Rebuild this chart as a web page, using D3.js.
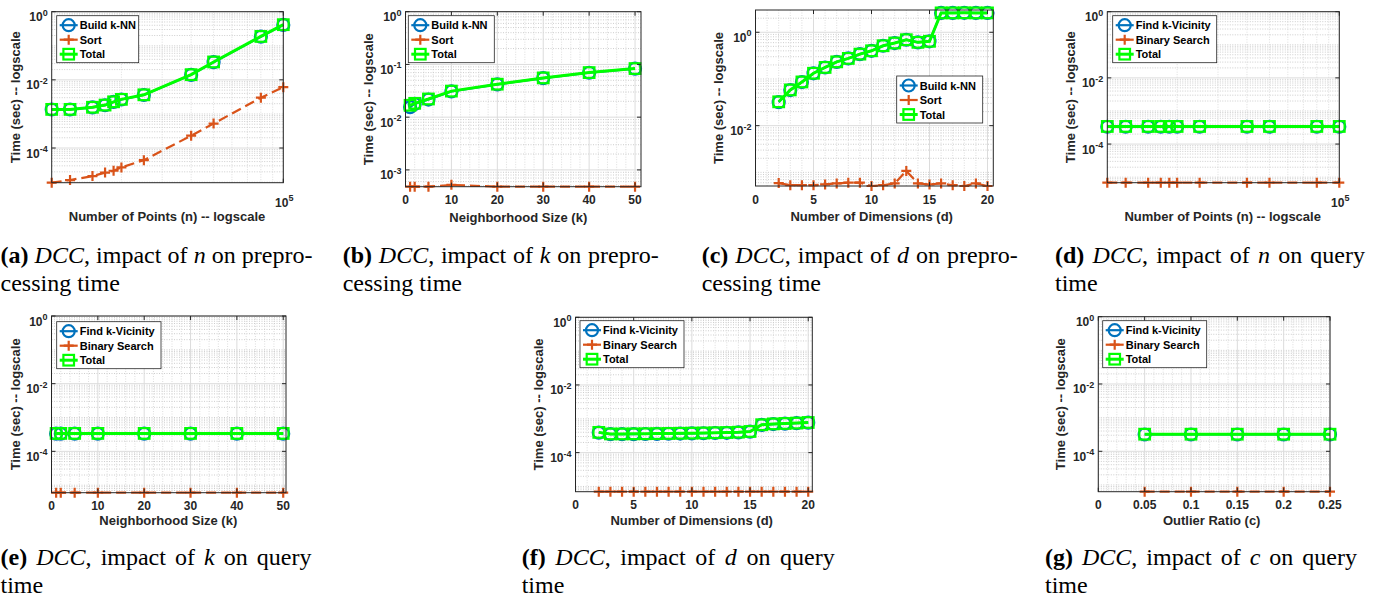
<!DOCTYPE html>
<meta charset="utf-8">
<head>
  <title>DCC timing</title>
</head>
<style>
  body { margin: 0; background: #fff; }
  .ax text { font-family: "Liberation Sans", Arial, sans-serif; font-weight: bold; fill: #262626; }
  .cap { font-family: "Liberation Serif", "Times New Roman", serif; fill: #000; }
</style>

<script src="https://d3js.org/d3.v7.min.js"></script>

<div id="fig"></div>

<script>

// x values
var nPoints = [10000, 12000, 15000, 17000, 18500, 20000, 25000, 40000, 50000, 80000, 100000];
var kSizes = [1, 2, 5, 10, 20, 30, 40, 50];
var dims = [2, 3, 4, 5, 6, 7, 8, 9, 10, 11, 12, 13, 14, 15, 16, 17, 18, 19, 20];
var ratios = [0.05, 0.1, 0.15, 0.2, 0.25];

// preprocessing time (sec)
var buildN = [1.35e-3, 1.35e-3, 1.55e-3, 1.8e-3, 2.25e-3, 2.65e-3, 3.6e-3, 1.4e-2, 3.3e-2, 0.185, 0.41];
var sortN  = [9.6e-6, 1.15e-5, 1.5e-5, 1.9e-5, 2.15e-5, 2.7e-5, 4.4e-5, 2.3e-4, 5.2e-4, 3.0e-3, 6.1e-3];
var totalN = [1.36e-3, 1.36e-3, 1.57e-3, 1.82e-3, 2.27e-3, 2.68e-3, 3.64e-3, 1.42e-2, 3.35e-2, 0.188, 0.416];

var buildK = [0.0155, 0.0178, 0.0216, 0.0307, 0.0417, 0.055, 0.0695, 0.083];
var sortK  = [4.8e-4, 4.8e-4, 4.8e-4, 5.2e-4, 4.8e-4, 4.8e-4, 4.8e-4, 4.8e-4];
var totalK = [0.0168, 0.0183, 0.0221, 0.0312, 0.0422, 0.0555, 0.07, 0.0835];

var buildD = [0.0318, 0.0578, 0.0859, 0.132, 0.176, 0.232, 0.275, 0.34, 0.401, 0.514, 0.588, 0.692, 0.608, 0.64, 2.6, 2.6, 2.61, 2.6, 2.6];
var sortD  = [5.9e-4, 5.3e-4, 5.3e-4, 5.3e-4, 5.5e-4, 5.8e-4, 6.0e-4, 6.0e-4, 5.1e-4, 5.3e-4, 5.8e-4, 1.07e-3, 5.8e-4, 5.5e-4, 5.8e-4, 5.3e-4, 5.1e-4, 5.8e-4, 5.1e-4];
var totalD = [0.0324, 0.0583, 0.0864, 0.1325, 0.1766, 0.2326, 0.2756, 0.3406, 0.4015, 0.5145, 0.5886, 0.693, 0.6086, 0.6406, 2.6006, 2.6005, 2.6105, 2.6006, 2.6005];

// query time (sec)
var findN  = [3.34e-4, 3.34e-4, 3.34e-4, 3.34e-4, 3.34e-4, 3.34e-4, 3.34e-4, 3.34e-4, 3.34e-4, 3.34e-4, 3.34e-4];
var binN   = [6.8e-6, 6.8e-6, 6.8e-6, 6.8e-6, 6.8e-6, 6.8e-6, 6.8e-6, 6.8e-6, 6.8e-6, 6.8e-6, 6.8e-6];
var qTotN  = [3.41e-4, 3.41e-4, 3.41e-4, 3.41e-4, 3.41e-4, 3.41e-4, 3.41e-4, 3.41e-4, 3.41e-4, 3.41e-4, 3.41e-4];

var findK  = [3.33e-4, 3.33e-4, 3.33e-4, 3.33e-4, 3.33e-4, 3.33e-4, 3.33e-4, 3.33e-4];
var binK   = [6.0e-6, 6.0e-6, 6.0e-6, 6.0e-6, 6.0e-6, 6.0e-6, 6.0e-6, 6.0e-6];
var qTotK  = [3.39e-4, 3.39e-4, 3.39e-4, 3.39e-4, 3.39e-4, 3.39e-4, 3.39e-4, 3.39e-4];

var findD  = [3.9e-4, 3.5e-4, 3.5e-4, 3.52e-4, 3.55e-4, 3.58e-4, 3.62e-4, 3.66e-4, 3.7e-4, 3.74e-4, 3.8e-4, 3.86e-4, 3.95e-4, 4.15e-4, 6.6e-4, 7.0e-4, 7.2e-4, 7.4e-4, 7.7e-4];
var binD   = [7e-6, 7e-6, 7e-6, 7e-6, 7e-6, 7e-6, 7e-6, 7e-6, 7e-6, 7e-6, 7e-6, 7e-6, 7e-6, 7e-6, 7e-6, 7e-6, 7e-6, 7e-6, 7e-6];
var qTotD  = [3.97e-4, 3.57e-4, 3.57e-4, 3.59e-4, 3.62e-4, 3.65e-4, 3.69e-4, 3.73e-4, 3.77e-4, 3.81e-4, 3.87e-4, 3.93e-4, 4.02e-4, 4.22e-4, 6.67e-4, 7.07e-4, 7.27e-4, 7.47e-4, 7.77e-4];

var findC  = [3.16e-4, 3.16e-4, 3.16e-4, 3.16e-4, 3.16e-4];
var binC   = [6.3e-6, 6.3e-6, 6.3e-6, 6.3e-6, 6.3e-6];
var qTotC  = [3.22e-4, 3.22e-4, 3.22e-4, 3.22e-4, 3.22e-4];

var prepNames = ["Build k-NN", "Sort", "Total"];
var queryNames = ["Find k-Vicinity", "Binary Search", "Total"];

// colours of the three series (MATLAB defaults + green)
var blue = "#0072BD", orange = "#D95319", lime = "#00FF00";

var panels = [
  {x: nPoints, xLog: true, xDomain: [1e4, 1e5], xTicks: [1e5], series: [buildN, sortN, totalN], names: prepNames,
   yTop: 1, yTicks: [1e-4, 1e-2, 1], box: {l: 51.7, r: 283.3, t: 11.7, b: 182.7},
   xLabel: "Number of Points (n) -- logscale", xLabelAt: [167, 220.5], yLabelX: 15,
   legend: {x: 56.7, y: 15.7, w: 82},
   cap: {x: 0.5, y: 263, w: 312, lab: "(a)", v: "n", tail: " on prepro-", line2: "cessing time"}},
  {x: kSizes, xDomain: [0, 51.3], xTicks: [0, 10, 20, 30, 40, 50], xMinor: 2, series: [buildK, sortK, totalK], names: prepNames,
   yTop: 1, yTicks: [1e-3, 1e-2, 1e-1, 1], box: {l: 405.5, r: 641, t: 11.7, b: 186.7},
   xLabel: "Neighborhood Size (k)", xLabelAt: [518.3, 221.5], yLabelX: 368.3,
   legend: {x: 408.3, y: 15.7, w: 86},
   cap: {x: 342.7, y: 263, w: 316, lab: "(b)", v: "k", tail: " on prepro-", line2: "cessing time"}},
  {x: dims, xDomain: [0, 20.5], xTicks: [0, 5, 10, 15, 20], xMinor: 1, series: [buildD, sortD, totalD], names: prepNames,
   yTop: 3.0, yTicks: [1e-2, 1], box: {l: 755.5, r: 993.3, t: 10, b: 186},
   xLabel: "Number of Dimensions (d)", xLabelAt: [871.7, 221], yLabelX: 718.3,
   legend: {x: 896.7, y: 76, w: 86},
   cap: {x: 701.7, y: 263, w: 316, lab: "(c)", v: "d", tail: " on prepro-", line2: "cessing time"}},
  {x: nPoints, xLog: true, xDomain: [1e4, 1e5], xTicks: [1e5], series: [findN, binN, qTotN], names: queryNames,
   yTop: 1, yTicks: [1e-4, 1e-2, 1], box: {l: 1107.3, r: 1339.3, t: 11.7, b: 182.7},
   xLabel: "Number of Points (n) -- logscale", xLabelAt: [1222.7, 220.5], yLabelX: 1070,
   legend: {x: 1112.7, y: 15.7, w: 104},
   cap: {x: 1055, y: 263, w: 310, lab: "(d)", v: "n", tail: " on query", line2: "time"}},
  {x: kSizes, xDomain: [0, 50.6], xTicks: [0, 10, 20, 30, 40, 50], xMinor: 2, series: [findK, binK, qTotK], names: queryNames,
   yTop: 1, yTicks: [1e-4, 1e-2, 1], box: {l: 51.5, r: 286, t: 316, b: 492.7},
   xLabel: "Neighborhood Size (k)", xLabelAt: [168.3, 524.5], yLabelX: 15,
   legend: {x: 56.7, y: 321.7, w: 104.3},
   cap: {x: 0.5, y: 565, w: 311, lab: "(e)", v: "k", tail: " on query", line2: "time"}},
  {x: dims, xDomain: [0, 20.35], xTicks: [0, 5, 10, 15, 20], xMinor: 1, series: [findD, binD, qTotD], names: queryNames,
   yTop: 1, yTicks: [1e-4, 1e-2, 1], box: {l: 575.5, r: 812.3, t: 317.3, b: 491.7},
   xLabel: "Number of Dimensions (d)", xLabelAt: [691.7, 524.5], yLabelX: 538,
   legend: {x: 580, y: 320.7, w: 104},
   cap: {x: 521.7, y: 565, w: 313, lab: "(f)", v: "d", tail: " on query", line2: "time"}},
  {x: ratios, xDomain: [0, 0.25], xTicks: [0, 0.05, 0.1, 0.15, 0.2, 0.25], xMinor: 0.01, series: [findC, binC, qTotC], names: queryNames,
   yTop: 1, yTicks: [1e-4, 1e-2, 1], box: {l: 1098.3, r: 1330, t: 316.7, b: 491.7},
   xLabel: "Outlier Ratio (c)", xLabelAt: [1211.7, 524.5], yLabelX: 1060,
   legend: {x: 1102.7, y: 320.7, w: 104},
   cap: {x: 1045, y: 565, w: 312, lab: "(g)", v: "c", tail: " on query", line2: "time"}}
];

var svg = d3.select("#fig").append("svg")
    .attr("width", 1383)
    .attr("height", 606);

function marker(sel, kind, color) {
  if (kind === 0) {
    sel.append("circle").attr("r", 6).attr("fill", "none").attr("stroke", color).attr("stroke-width", 2.2);
  } else if (kind === 1) {
    sel.append("path").attr("d", "M-5,0H5M0,-5V5").attr("stroke", color).attr("stroke-width", 2.2);
  } else {
    sel.append("rect").attr("x", -5.3).attr("y", -5.3).attr("width", 10.6).attr("height", 10.6)
      .attr("fill", "none").attr("stroke", color).attr("stroke-width", 2.2);
  }
}

function expLabel(txt, base, exp) {
  txt.append("tspan").text(base);
  txt.append("tspan").attr("dy", -5.5).style("font-size", "9px").text(exp);
}

panels.forEach(function(p) {
  var g = svg.append("g").attr("class", "ax");
  var b = p.box;

  var x = (p.xLog ? d3.scaleLog() : d3.scaleLinear()).domain(p.xDomain).range([b.l, b.r]);
  var yMin = d3.min(p.series, function(s) { return d3.min(s); });
  var y = d3.scaleLog().domain([yMin, p.yTop]).range([b.b, b.t]);

  // minor y grid (dotted) at 1..9 x 10^e
  var yMinor = [];
  for (var e = Math.floor(Math.log10(yMin)); e <= Math.ceil(Math.log10(p.yTop)); e++) {
    for (var m = 1; m <= 9; m++) {
      var v = m * Math.pow(10, e);
      if (v > yMin && v < p.yTop && p.yTicks.indexOf(v) < 0) yMinor.push(v);
    }
  }
  g.selectAll(".ymg").data(yMinor).enter().append("line")
    .attr("x1", b.l).attr("x2", b.r)
    .attr("y1", function(d) { return y(d); }).attr("y2", function(d) { return y(d); })
    .attr("stroke", "#b8b8b8").attr("stroke-width", 0.7).attr("stroke-dasharray", "1,1.5");

  // minor x grid
  var xMinor = [];
  if (p.xLog) {
    for (var mm = 2; mm <= 9; mm++) xMinor.push(mm * 1e4);
  } else {
    xMinor = d3.range(p.xMinor, p.xDomain[1], p.xMinor).filter(function(v) {
      return !p.xTicks.some(function(t) { return Math.abs(t - v) < 1e-9; });
    });
  }
  g.selectAll(".xmg").data(xMinor).enter().append("line")
    .attr("x1", function(d) { return x(d); }).attr("x2", function(d) { return x(d); })
    .attr("y1", b.t).attr("y2", b.b)
    .attr("stroke", "#cfcfcf").attr("stroke-width", 0.7).attr("stroke-dasharray", "1,1.5");

  // major grid
  g.selectAll(".ygrid").data(p.yTicks).enter().append("line")
    .attr("x1", b.l).attr("x2", b.r)
    .attr("y1", function(d) { return y(d); }).attr("y2", function(d) { return y(d); })
    .attr("stroke", "#dcdcdc").attr("stroke-width", 1);
  g.selectAll(".xgrid").data(p.xTicks).enter().append("line")
    .attr("x1", function(d) { return x(d); }).attr("x2", function(d) { return x(d); })
    .attr("y1", b.t).attr("y2", b.b)
    .attr("stroke", "#dcdcdc").attr("stroke-width", 1);

  // series: 0 solid blue circles, 1 dashed orange plus, 2 solid lime squares
  var colors = [blue, orange, lime];
  var widths = [2.2, 2.2, 3];
  p.series.forEach(function(s, i) {
    var pts = p.x.map(function(xv, j) { return [xv, s[j]]; });
    g.append("path")
      .datum(pts)
      .attr("fill", "none")
      .attr("stroke", colors[i])
      .attr("stroke-width", widths[i])
      .attr("stroke-dasharray", i === 1 ? "10,5" : null)
      .attr("d", d3.line()
        .x(function(d) { return x(d[0]); })
        .y(function(d) { return y(d[1]); }));
    var mk = g.selectAll(".mk" + i).data(pts).enter().append("g")
      .attr("transform", function(d) { return "translate(" + x(d[0]) + "," + y(d[1]) + ")"; });
    marker(mk, i, colors[i]);
  });

  // box
  g.append("rect")
    .attr("x", b.l).attr("y", b.t).attr("width", b.r - b.l).attr("height", b.b - b.t)
    .attr("fill", "none").attr("stroke", "#262626").attr("stroke-width", 1);

  // ticks (inward, on both sides)
  p.yTicks.forEach(function(t) {
    g.append("line").attr("x1", b.l).attr("x2", b.l + 4).attr("y1", y(t)).attr("y2", y(t)).attr("stroke", "#262626");
    g.append("line").attr("x1", b.r).attr("x2", b.r - 4).attr("y1", y(t)).attr("y2", y(t)).attr("stroke", "#262626");
  });
  p.xTicks.forEach(function(t) {
    g.append("line").attr("x1", x(t)).attr("x2", x(t)).attr("y1", b.b).attr("y2", b.b - 4).attr("stroke", "#262626");
    g.append("line").attr("x1", x(t)).attr("x2", x(t)).attr("y1", b.t).attr("y2", b.t + 4).attr("stroke", "#262626");
  });

  // y tick labels 10^e
  p.yTicks.forEach(function(t) {
    var txt = g.append("text")
      .attr("x", b.l - 4).attr("y", y(t) + 9.5)
      .attr("text-anchor", "end")
      .style("font-size", "12px");
    expLabel(txt, "10", String(Math.round(Math.log10(t))));
  });

  // x tick labels
  p.xTicks.forEach(function(t) {
    var txt = g.append("text")
      .attr("text-anchor", "middle")
      .style("font-size", "12px");
    if (p.xLog) {
      txt.attr("x", x(t) + 1).attr("y", b.b + 24);
      expLabel(txt, "10", String(Math.round(Math.log10(t))));
    } else {
      txt.attr("x", x(t)).attr("y", b.b + 17.5).text(String(t));
    }
  });

  // axis labels
  g.append("text")
    .attr("x", p.xLabelAt[0]).attr("y", p.xLabelAt[1])
    .attr("text-anchor", "middle")
    .style("font-size", "13px")
    .text(p.xLabel);
  g.append("text")
    .attr("transform", "translate(" + (p.yLabelX + 4.5) + "," + ((b.t + b.b) / 2) + ") rotate(-90)")
    .attr("text-anchor", "middle")
    .style("font-size", "13px")
    .text("Time (sec) -- logscale");

  // legend
  var L = p.legend;
  var lg = g.append("g");
  lg.append("rect")
    .attr("x", L.x).attr("y", L.y).attr("width", L.w).attr("height", 47)
    .attr("fill", "#fff").attr("stroke", "#262626").attr("stroke-width", 0.8);
  p.names.forEach(function(name, i) {
    var ry = L.y + 9.5 + i * 14.5;
    lg.append("line")
      .attr("x1", L.x + 3).attr("x2", L.x + 21).attr("y1", ry).attr("y2", ry)
      .attr("stroke", colors[i]).attr("stroke-width", widths[i]);
    var mk = lg.append("g").attr("transform", "translate(" + (L.x + 12) + "," + ry + ")");
    marker(mk, i, colors[i]);
    lg.append("text")
      .attr("x", L.x + 23).attr("y", ry + 4)
      .style("font-size", "11px")
      .style("fill", "#000")
      .text(name);
  });

  // caption, first line stretched to the column width
  var c = p.cap;
  var cap = svg.append("text").attr("class", "cap")
    .attr("x", c.x).attr("y", c.y)
    .style("font-size", "24px");
  cap.append("tspan").style("font-weight", "bold").text(c.lab);
  cap.append("tspan").text(" ");
  cap.append("tspan").style("font-style", "italic").text("DCC");
  cap.append("tspan").text(", impact of ");
  cap.append("tspan").style("font-style", "italic").text(c.v);
  cap.append("tspan").text(c.tail);
  var natural = cap.node().getComputedTextLength();
  var spaces = (cap.text().match(/ /g) || []).length;
  var extra = Math.max(0, (c.w - natural) / spaces);
  cap.style("word-spacing", extra + "px");

  svg.append("text").attr("class", "cap")
    .attr("x", c.x).attr("y", c.y + 28)
    .style("font-size", "24px")
    .text(c.line2);
});

</script>
